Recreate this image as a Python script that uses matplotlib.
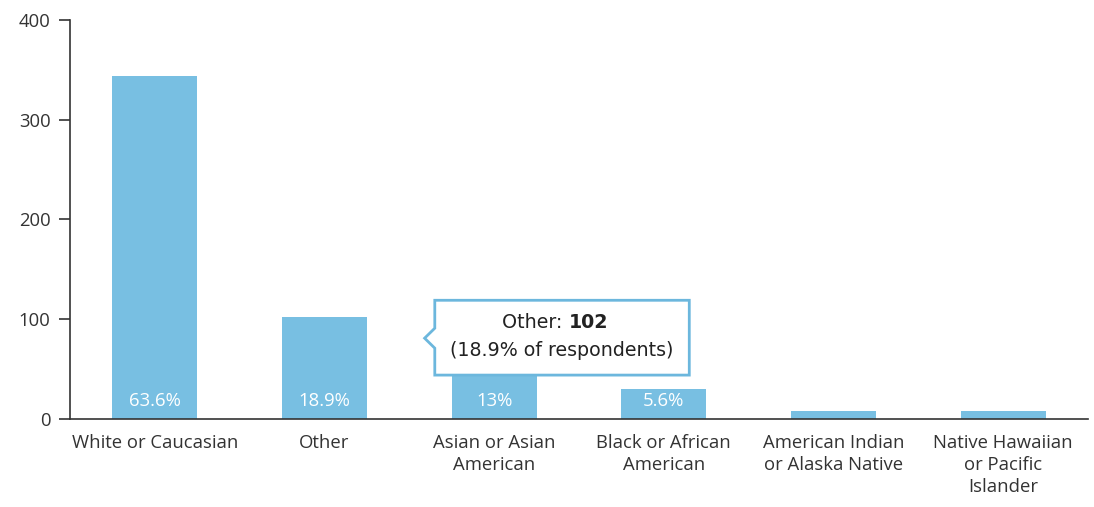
import matplotlib
matplotlib.use("Agg")
import matplotlib.pyplot as plt
from matplotlib.patches import Polygon

# data
categories = ["White or Caucasian", "Other", "Asian or Asian\nAmerican",
              "Black or African\nAmerican", "American Indian\nor Alaska Native",
              "Native Hawaiian\nor Pacific\nIslander"]
counts = [344, 102, 70, 30, 8, 8]
pct_labels = ["63.6%", "18.9%", "13%", "5.6%", "", ""]
y_ticks = [0, 100, 200, 300, 400]

BAR_COLOR = "#78bfe2"
AXIS_COLOR = "#333333"
TIP_FONT = ["DejaVu Sans"]

plt.rcParams["font.family"] = ["Open Sans", "DejaVu Sans"]

fig = plt.figure(figsize=(10.94, 5.07), dpi=100)
ax = fig.add_axes([0.064, 0.1736, 0.9305, 0.787])

x = list(range(len(categories)))
bars = ax.bar(x, counts, width=0.5, color=BAR_COLOR, zorder=2)

# percentage labels inside bars
for xi, lab in zip(x, pct_labels):
    if lab:
        ax.text(xi, 18, lab, ha="center", va="center", color="white",
                fontsize=13.3, zorder=3)

ax.set_xlim(-0.5, len(categories) - 0.5)
ax.set_ylim(0, 400)
ax.set_yticks(y_ticks)
ax.set_xticks(x)
ax.set_xticklabels(categories, fontsize=13.3, color="#333333", linespacing=1.3)
ax.tick_params(axis="x", length=0, pad=10.5)
ax.tick_params(axis="y", length=8, width=1.2, color=AXIS_COLOR,
               labelsize=13.3, labelcolor="#333333", pad=6)

for side in ["top", "right"]:
    ax.spines[side].set_visible(False)
ax.spines["left"].set_color(AXIS_COLOR)
ax.spines["bottom"].set_color(AXIS_COLOR)
ax.spines["left"].set_linewidth(1.2)
ax.spines["bottom"].set_linewidth(1.2)

# tooltip for the "Other" bar
tip_x, tip_y = 1.59, 81
box_l, box_r, box_b, box_t = 1.65, 3.15, 44, 119
tooltip = Polygon([(box_l, box_t), (box_r, box_t), (box_r, box_b),
                   (box_l, box_b), (box_l, tip_y - 10), (tip_x, tip_y),
                   (box_l, tip_y + 10)],
                  closed=True, facecolor="white", edgecolor="#6cb7dd",
                  linewidth=2, zorder=5)
ax.add_patch(tooltip)
split_x = 2.44
ax.text(split_x, 97, "Other: ", ha="right", va="center", fontsize=13.7,
        fontfamily=TIP_FONT, color="#222222", zorder=6)
ax.text(split_x, 97, str(counts[1]), ha="left", va="center", fontsize=13.7,
        fontfamily=TIP_FONT, fontweight="bold", color="#222222", zorder=6)
ax.text((box_l + box_r) / 2, 69, "(18.9% of respondents)", ha="center",
        va="center", fontsize=13.7, fontfamily=TIP_FONT, color="#222222",
        zorder=6)

fig.savefig("out.png", dpi=100)
